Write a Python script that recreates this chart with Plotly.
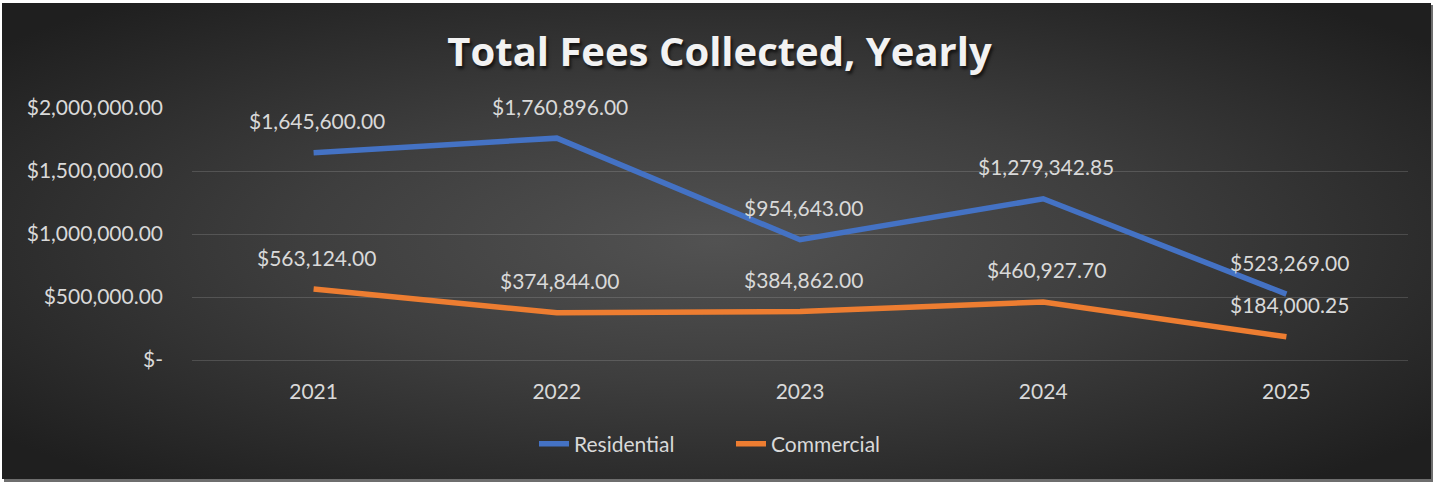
import base64
import plotly.graph_objects as go

# data
years = ["2021", "2022", "2023", "2024", "2025"]
residential = [1645600.00, 1760896.00, 954643.00, 1279342.85, 523269.00]
commercial = [563124.00, 374844.00, 384862.00, 460927.70, 184000.25]
y_tick_vals = [0, 500000, 1000000, 1500000, 2000000]
y_tick_labels = ["$-", "$500,000.00", "$1,000,000.00", "$1,500,000.00", "$2,000,000.00"]

W, H = 1442, 483
ML, MR, MT, MB = 192, 34, 108, 123
PW, PH = W - ML - MR, H - MT - MB

FONT = "Lato"
FS = 21
TXT = "#d9d9d9"
BLUE = "#4472C4"
ORANGE = "#ED7D31"

# chart box background: drop shadow + radial gradient, drawn as one svg over the whole page
svg = (
    f'<svg xmlns="http://www.w3.org/2000/svg" width="{W}" height="{H}" viewBox="0 0 {W} {H}">'
    '<defs><radialGradient id="g" cx="50%" cy="50%" r="65%">'
    '<stop offset="0%" stop-color="#525252"/>'
    '<stop offset="45%" stop-color="#3e3e3e"/>'
    '<stop offset="100%" stop-color="#1f1f1f"/>'
    '</radialGradient></defs>'
    '<rect x="4" y="5" width="1429" height="477" fill="#6e6e6e"/>'
    '<rect x="2" y="3" width="1429" height="476" fill="url(#g)"/></svg>'
)
bg_uri = "data:image/svg+xml;base64," + base64.b64encode(svg.encode()).decode()

fig = go.Figure()

fig.add_trace(go.Scatter(
    x=years, y=residential, mode="lines", name="Residential",
    line=dict(color=BLUE, width=5.5),
))
fig.add_trace(go.Scatter(
    x=years, y=commercial, mode="lines", name="Commercial",
    line=dict(color=ORANGE, width=5.5),
))

# data labels (x as category index)
for series in (residential, commercial):
    for i, v in enumerate(series):
        fig.add_annotation(
            x=i, y=v, xref="x", yref="y", text=f"${v:,.2f}", showarrow=False,
            yshift=32, xshift=3, yanchor="middle",
            font=dict(family=FONT, size=FS, color=TXT),
        )

fig.add_layout_image(
    source=bg_uri, xref="paper", yref="paper",
    x=-ML / PW, y=1 + MT / PH, sizex=W / PW, sizey=H / PH,
    xanchor="left", yanchor="top", sizing="stretch", layer="below",
)

fig.update_layout(
    width=W, height=H,
    margin=dict(l=ML, r=MR, t=MT, b=MB),
    paper_bgcolor="white",
    plot_bgcolor="rgba(0,0,0,0)",
    font=dict(family=FONT, size=FS, color=TXT),
    title=dict(
        text="<b>Total Fees Collected, Yearly</b>",
        x=0.499, xanchor="center", y=1 - 52 / H, yanchor="middle",
        font=dict(family="Open Sans", size=40, color="#f2f2f2",
                  shadow="2px 3px 3px rgba(0,0,0,0.6)"),
    ),
    showlegend=True,
    legend=dict(
        orientation="h", x=(731 - ML) / PW, xanchor="center",
        y=(H - MB - 444) / PH, yanchor="middle",
        font=dict(family=FONT, size=FS, color=TXT),
        bgcolor="rgba(0,0,0,0)",
        entrywidth=152, entrywidthmode="pixels",
    ),
    hovermode=False,
)

fig.update_xaxes(
    type="category", range=[-0.5, 4.5],
    showgrid=False, zeroline=False, showline=False,
    ticks="", ticklabelstandoff=17,
    tickfont=dict(family=FONT, size=FS, color=TXT),
)
fig.update_yaxes(
    range=[0, 2000000],
    tickvals=y_tick_vals, ticktext=y_tick_labels,
    showgrid=True, gridcolor="rgba(217,217,217,0.18)", gridwidth=1,
    zeroline=True, zerolinecolor="rgba(217,217,217,0.18)", zerolinewidth=1,
    showline=False, ticks="", ticklabelstandoff=28,
    tickfont=dict(family=FONT, size=FS, color=TXT),
)

fig.write_html(
    "out.html",
    config={"displayModeBar": False},
    post_script="document.body.style.margin='0';",
)
